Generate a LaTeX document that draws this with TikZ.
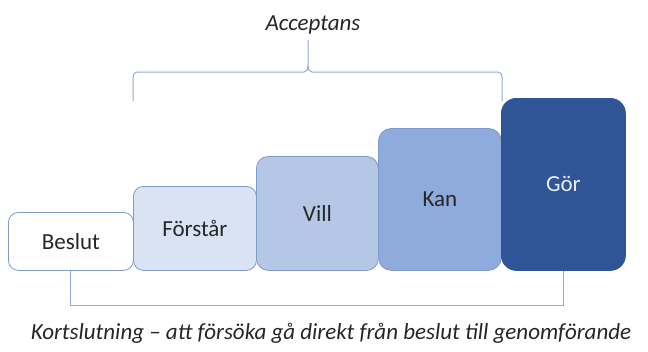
\documentclass[tikz,border=0pt]{standalone}
\usepackage{fontspec}
\setmainfont{Carlito}
\definecolor{lineblue}{HTML}{8FAADC}
\definecolor{edgeblue}{HTML}{7F9ACB}
\definecolor{c1}{HTML}{DAE3F3}
\definecolor{c2}{HTML}{B4C7E7}
\definecolor{c3}{HTML}{8FAADC}
\definecolor{c4}{HTML}{2F5597}
\definecolor{txt}{HTML}{262626}
\begin{document}
\begin{tikzpicture}[x=1pt,y=1pt,
  stepbox/.style={draw=edgeblue, line width=0.8pt, rounded corners=10pt, inner sep=0pt, anchor=north west, font=\fontsize{23}{26}\selectfont, text=txt},
  bracket/.style={draw=lineblue, line width=1pt}]
\useasboundingbox (0,0) rectangle (648,-351);
\node[stepbox, fill=white, minimum width=125pt, minimum height=58pt] (beslut) at (8,-212) {Beslut};
\node[stepbox, fill=c1, minimum width=123pt, minimum height=84pt] (forstar) at (133,-186) {Förstår};
\node[stepbox, fill=c2, minimum width=122pt, minimum height=114pt, rounded corners=12pt] (vill) at (256,-156) {Vill};
\node[stepbox, fill=c3, minimum width=123pt, minimum height=142pt, rounded corners=13pt] (kan) at (378,-128) {Kan};
\node[stepbox, fill=c4, draw=c4, text=white!92!black, minimum width=124pt, minimum height=172pt, rounded corners=15pt] (gor) at (501,-98) {Gör};
% bottom bracket
\draw[bracket] (beslut.south) -- ++(0,-35) -| (gor.south);
% top brace
\draw[bracket] (133,-101) -- (133,-77) to[out=90,in=180] (137,-72) -- (304,-72) to[out=0,in=270] (308,-66) -- (308,-40);
\draw[bracket] (502,-101) -- (502,-77) to[out=90,in=0] (498,-72) -- (312,-72) to[out=180,in=270] (308,-66);
\node[font=\fontsize{23}{26}\selectfont\itshape, text=txt] (acc) at (313,-25) {Acceptans};
\node[font=\fontsize{23}{26}\selectfont\itshape, text=txt] (cap) at (331,-333) {Kortslutning – att försöka gå direkt från beslut till genomförande};
\end{tikzpicture}
\end{document}
